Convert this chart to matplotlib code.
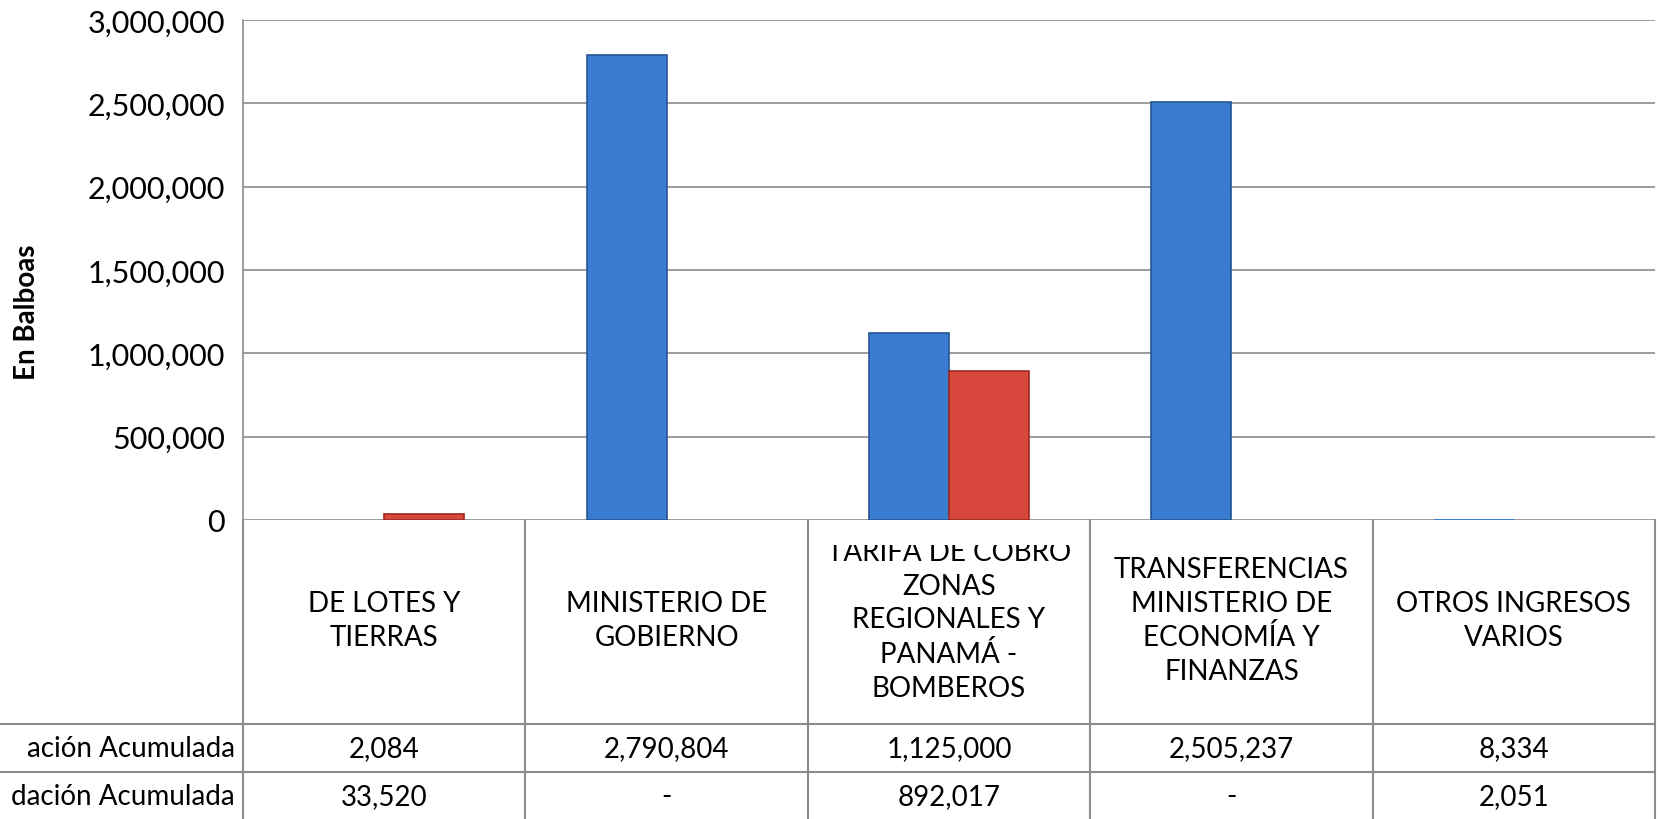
import numpy as np
import matplotlib
matplotlib.use('Agg')
import matplotlib.pyplot as plt
from matplotlib.ticker import FuncFormatter

plt.rcParams['font.family'] = ['Lato', 'DejaVu Sans']

# datos
categorias = ['DE LOTES Y\nTIERRAS', 'MINISTERIO DE\nGOBIERNO',
              'TARIFA DE COBRO\nZONAS\nREGIONALES Y\nPANAMÁ -\nBOMBEROS',
              'TRANSFERENCIAS\nMINISTERIO DE\nECONOMÍA Y\nFINANZAS',
              'OTROS INGRESOS\nVARIOS']
# etiquetas de fila tal como se ven (recortadas en el original)
filas = ['ación Acumulada', 'dación Acumulada']
asignacion = [2084, 2790804, 1125000, 2505237, 8334]
recaudacion = [33520, 0, 892017, 0, 2051]
yticks = [0, 500000, 1000000, 1500000, 2000000, 2500000, 3000000]

W, H = 1661, 820
fig = plt.figure(figsize=(W/100, H/100), dpi=100)

px_left, px_right, px_top, px_zero = 243, 1655, 21, 521
ax = fig.add_axes([px_left/W, 1 - px_zero/H, (px_right - px_left)/W, (px_zero - px_top)/H])

x = np.arange(len(categorias))
w = 0.283
lw_a = [1.2 if v > 20000 else 0 for v in asignacion]
lw_r = [1.2 if v > 20000 else 0 for v in recaudacion]
ax.bar(x - w/2, asignacion, w, color='#3A7DD0', edgecolor='#245594', linewidth=lw_a, zorder=3)
ax.bar(x + w/2, recaudacion, w, color='#D8473B', edgecolor='#9E2A22', linewidth=lw_r, zorder=3)

ax.set_xlim(-0.5, len(categorias) - 0.5)
ax.set_ylim(0, 3000000)
ax.set_yticks(yticks)
ax.yaxis.set_major_formatter(FuncFormatter(lambda v, p: f'{v:,.0f}'))
ax.tick_params(axis='y', length=0, pad=13, labelsize=22)
ax.set_xticks([])
ax.grid(axis='y', color='#8C8C8C', linewidth=1.2)
ax.set_axisbelow(True)
for s in ['top', 'right', 'bottom']:
    ax.spines[s].set_visible(False)
ax.spines['left'].set_color('#8C8C8C')
ax.spines['left'].set_linewidth(1.2)

fig.text(27/W, 1 - 312/H, 'En Balboas', rotation=90, fontsize=20, fontweight='bold',
         ha='center', va='center')

# tabla de datos
tax = fig.add_axes([px_left/W, 0, (px_right - px_left)/W, (H - px_zero)/H])
tax.set_xlim(-0.5, len(categorias) - 0.5)
tax.set_ylim(H - px_zero, 0)
tax.axis('off')
hdr_h, row_h = 204, 48
lc = '#8C8C8C'
for k in range(len(categorias) + 1):
    tax.plot([k - 0.5, k - 0.5], [0, H - px_zero], color=lc, lw=1.5, clip_on=False)
for yy in [hdr_h, hdr_h + row_h]:
    tax.plot([-px_left/(px_right - px_left), 1], [yy, yy], color=lc, lw=1.5,
             transform=tax.get_yaxis_transform(), clip_on=False)

# encabezados: el texto que no cabe queda recortado arriba, como en el original
cut = 25
hax = fig.add_axes([px_left/W, 1 - (px_zero + hdr_h)/H, (px_right - px_left)/W, (hdr_h - cut)/H])
hax.set_xlim(-0.5, len(categorias) - 0.5)
hax.set_ylim(hdr_h, cut)
hax.axis('off')
for i, c in enumerate(categorias):
    hax.text(i, 100, c, ha='center', va='center', fontsize=20, linespacing=1.36,
             multialignment='center', clip_on=True)

fmt = lambda v: f'{v:,.0f}' if v else '-'
for r, (name, vals) in enumerate(zip(filas, [asignacion, recaudacion])):
    yc = hdr_h + row_h * r + row_h / 2
    tax.text(-0.5 - 8/282.4, yc, name, ha='right', va='center', fontsize=20, clip_on=False)
    for i, v in enumerate(vals):
        tax.text(i, yc, fmt(v), ha='center', va='center', fontsize=20)

fig.savefig('out.png', dpi=100)
